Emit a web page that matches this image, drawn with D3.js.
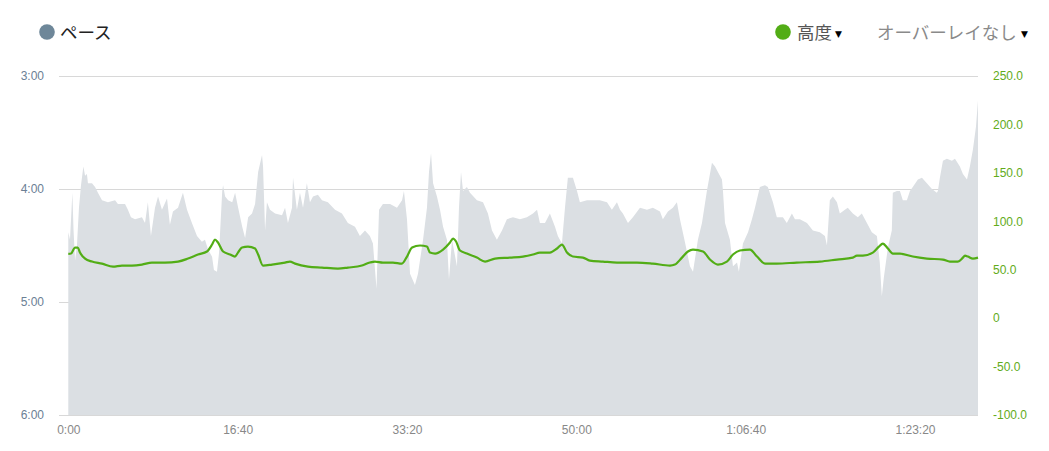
<!DOCTYPE html>
<html><head><meta charset="utf-8">
<script src="https://cdn.jsdelivr.net/npm/d3@7"></script>
<style>
html,body{margin:0;padding:0;background:#fff;}
svg{display:block;}
</style></head>
<body>
<svg id="chart" width="1049" height="451"></svg>
<script>
// ---- data ----
const paceTimes = [0,10,24,31,40,51,63,75,89,99,110,116,140,158,175,199,234,276,293,335,352,370,394,435,453,470,488,512,530,553,583,600,618,648,677,701,730,760,789,807,825,849,860,878,890,909,914,926,944,968,985,1003,1027,1044,1062,1085,1103,1121,1144,1150,1162,1173,1191,1221,1262,1280,1297,1321,1327,1350,1368,1386,1409,1427,1445,1474,1498,1533,1575,1616,1651,1693,1722,1752,1781,1799,1820,1835,1858,1900,1941,1971,1982,2000,2018,2047,2065,2095,2118,2130,2142,2154,2177,2195,2213,2236,2248,2266,2295,2307,2319,2331,2354,2372,2413,2449,2478,2502,2531,2561,2590,2626,2667,2708,2744,2768,2785,2815,2844,2874,2891,2915,2933,2950,2980,3004,3021,3063,3098,3139,3181,3210,3240,3258,3275,3305,3334,3376,3417,3452,3494,3511,3541,3570,3594,3612,3641,3671,3689,3718,3742,3771,3801,3819,3836,3860,3866,3878,3907,3925,3949,3960,3984,4014,4037,4055,4084,4114,4131,4161,4184,4202,4220,4243,4273,4291,4320,4362,4397,4438,4468,4480,4497,4515,4539,4556,4586,4603,4633,4662,4686,4716,4745,4775,4792,4804,4816,4840,4863,4869,4893,4911,4928,4952,4970,4987,5017,5041,5070,5100,5129,5135,5147,5165,5188,5218,5236,5265,5283,5307,5324,5342,5360,5372];
const paceValues = [263,267,242,262,278,270,250,238,228,233,232,237,237,239,242,246,247,246,248,248,251,255,256,255,258,247,265,250,244,251,245,259,252,250,242,251,258,265,268,267,272,276,283,284,274,241,238,244,246,247,242,250,260,266,255,253,248,231,222,228,262,247,251,253,254,250,258,250,234,251,242,250,237,247,244,243,246,247,251,253,258,260,265,262,265,269,293,251,248,248,250,246,241,256,285,291,285,267,250,231,221,237,244,251,260,267,288,267,281,250,231,241,239,242,246,247,253,262,267,262,256,255,256,255,253,251,258,258,253,260,265,269,250,234,234,241,247,246,246,246,247,251,247,251,253,258,255,250,251,250,252,256,252,250,247,256,268,281,284,267,258,241,226,228,231,235,241,258,267,281,279,284,269,263,256,250,239,238,239,247,255,255,255,258,253,256,256,258,262,263,265,270,246,244,247,253,251,250,253,255,253,258,263,265,279,297,287,271,262,242,241,241,246,246,241,239,235,234,237,240,242,241,234,225,224,225,224,228,232,235,228,219,207,193];
const altTimes = [0,16,40,56,69,99,140,199,264,317,376,435,494,571,648,707,766,819,849,866,884,914,955,984,1002,1026,1061,1103,1121,1150,1203,1280,1309,1339,1415,1498,1592,1651,1734,1781,1811,1858,1917,1970,2000,2030,2077,2118,2136,2166,2213,2254,2272,2290,2313,2354,2413,2461,2520,2608,2685,2744,2785,2844,2886,2915,2945,2980,3039,3080,3157,3240,3358,3452,3553,3582,3624,3659,3689,3748,3789,3836,3889,3925,3966,4025,4067,4114,4184,4302,4438,4539,4633,4657,4692,4751,4787,4810,4840,4869,4911,4987,5070,5165,5206,5253,5283,5295,5312,5342,5372];
const altValues = [66.4,66.7,72.9,72.9,67.7,61.5,58.4,56.3,53.2,54.3,54.3,55.3,57.4,57.4,58.4,61.5,65.7,68.8,76.0,81.2,78.1,68.8,65.7,63.6,67.7,72.9,73.9,71.9,65.7,54.3,55.3,57.4,58.4,56.3,53.2,52.2,51.2,52.2,54.3,57.4,58.4,57.4,57.4,56.3,63.6,72.9,75.0,73.9,67.7,66.7,70.8,78.1,82.2,79.1,69.8,66.7,62.5,58.4,61.5,62.5,63.6,65.7,67.7,67.7,71.9,76.0,67.7,63.6,62.5,59.4,58.4,57.4,57.4,56.3,54.3,55.3,62.5,68.8,70.8,68.8,60.5,55.3,58.4,65.7,69.8,70.8,63.6,56.3,56.3,57.4,58.4,60.5,62.5,64.6,64.6,67.7,73.9,77.0,71.9,66.7,66.7,63.6,61.5,60.5,58.4,58.4,62.5,64.6,63.6,61.5,62.5];
const paceTicks = [180,240,300,360];
const paceTickLabels = ["3:00","4:00","5:00","6:00"];
const altTicks = [250,200,150,100,50,0,-50,-100];
const altTickLabels = ["250.0","200.0","150.0","100.0","50.0","0","-50.0","-100.0"];
const timeTicks = [0,1000,2000,3000,4000,5000];
const timeTickLabels = ["0:00","16:40","33:20","50:00","1:06:40","1:23:20"];
const maxTime = 5372;

// ---- drawing ----
const svg = d3.select("#chart");
const x = d3.scaleLinear().domain([0, maxTime]).range([68.3, 978]);
const yPace = d3.scaleLinear().domain([180, 360]).range([76, 415]);
const yAlt = d3.scaleLinear().domain([-100, 250]).range([415, 76]);
const gridX0 = 59, gridX1 = 978;

const paceData = paceTimes.map((t,i)=>({t, v: paceValues[i]}));
const altData = altTimes.map((t,i)=>({t, v: altValues[i]}));

// gridlines
svg.append("g").selectAll("line").data(paceTicks).join("line")
  .attr("x1", gridX0).attr("x2", gridX1)
  .attr("y1", d=>yPace(d)+0.5).attr("y2", d=>yPace(d)+0.5)
  .attr("stroke", "#d8d8d8").attr("stroke-width", 1);

// pace area
svg.append("path").datum(paceData)
  .attr("d", d3.area().x(d=>x(d.t)).y0(yPace(360)).y1(d=>yPace(d.v)))
  .attr("fill", "#dbdfe3");

// altitude line
svg.append("path").datum(altData)
  .attr("d", d3.line().x(d=>x(d.t)).y(d=>yAlt(d.v)).curve(d3.curveMonotoneX))
  .attr("fill", "none").attr("stroke", "#52ad16").attr("stroke-width", 2.2)
  .attr("stroke-linejoin", "round");

// left axis
const fontAxis = "'Liberation Sans', Arial, sans-serif";
const gl = svg.append("g").attr("transform", "translate(44,0)")
  .call(d3.axisLeft(yPace).tickValues(paceTicks).tickSize(0).tickPadding(0)
    .tickFormat((d,i)=>paceTickLabels[i]));
gl.select(".domain").remove();
gl.selectAll("text").attr("fill", "#6b8095").style("font-size", "12px").style("font-family", fontAxis);

// right axis
const gr = svg.append("g").attr("transform", "translate(993,0)")
  .call(d3.axisRight(yAlt).tickValues(altTicks).tickSize(0).tickPadding(0)
    .tickFormat((d,i)=>altTickLabels[i]));
gr.select(".domain").remove();
gr.selectAll("text").attr("fill", "#62ab1a").style("font-size", "12px").style("font-family", fontAxis);

// bottom axis
const gb = svg.append("g").attr("transform", "translate(0,425)")
  .call(d3.axisBottom(x).tickValues(timeTicks).tickSize(0).tickPadding(0)
    .tickFormat((d,i)=>timeTickLabels[i]));
gb.select(".domain").remove();
gb.selectAll("text").attr("fill", "#888888").style("font-size", "12px").style("font-family", fontAxis);

// legends
const fontJP = "'Noto Sans CJK JP', 'Noto Sans', sans-serif";
svg.append("circle").attr("cx", 47).attr("cy", 32).attr("r", 7.8).attr("fill", "#6e8799");
svg.append("text").attr("x", 60).attr("y", 38.5).text("ペース")
  .style("font-family", fontJP).style("font-size", "17.5px").attr("fill", "#222");

svg.append("circle").attr("cx", 783).attr("cy", 32).attr("r", 7.8).attr("fill", "#52ad16");
svg.append("text").attr("x", 797).attr("y", 38.5).text("高度")
  .style("font-family", fontJP).style("font-size", "17.5px").attr("fill", "#555");
svg.append("text").attr("x", 835).attr("y", 37).text("▼")
  .style("font-family", "'DejaVu Sans', sans-serif").style("font-size", "9px").attr("fill", "#000");

svg.append("text").attr("x", 877).attr("y", 38.5).text("オーバーレイなし")
  .style("font-family", fontJP).style("font-size", "17.5px").attr("fill", "#8a8a8a");
svg.append("text").attr("x", 1021).attr("y", 37).text("▼")
  .style("font-family", "'DejaVu Sans', sans-serif").style("font-size", "9px").attr("fill", "#000");
</script>
</body></html>
